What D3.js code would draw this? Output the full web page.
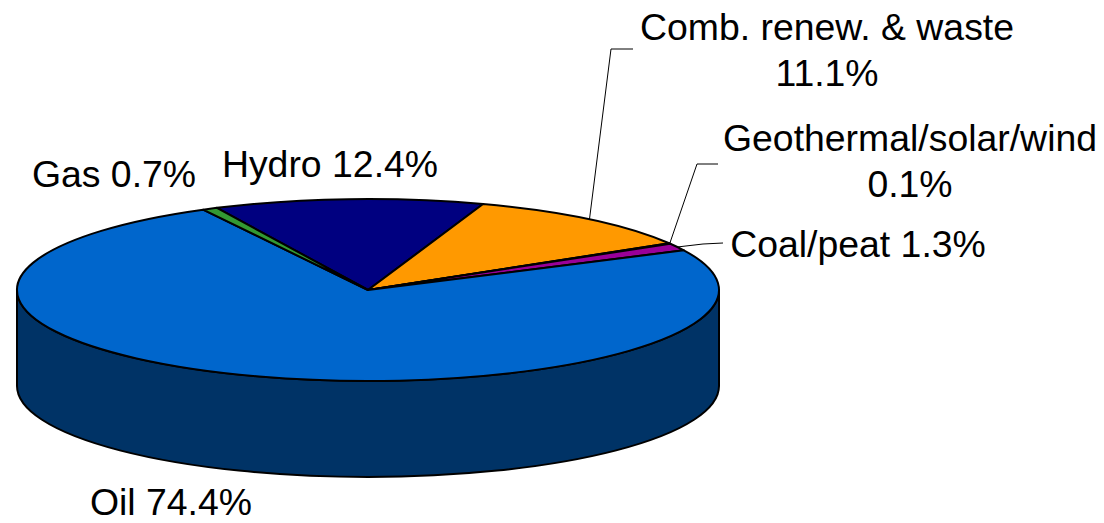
<!DOCTYPE html>
<html>
<head>
<meta charset="utf-8">
<script src="https://cdn.jsdelivr.net/npm/d3@7"></script>
<style>
  html, body { margin: 0; padding: 0; background: #ffffff; }
  svg { display: block; }
  text { font-family: "Liberation Sans", Arial, sans-serif; font-size: 37.4px; fill: #000; }
</style>
</head>
<body>
<svg id="chart" width="1104" height="523"></svg>
<script>
// Energy supply shares, listed clockwise from the top of the pie
const categories = ["Hydro", "Comb. renew. & waste", "Geothermal/solar/wind", "Coal/peat", "Oil", "Gas"];
const shares     = [12.4, 11.1, 0.1, 1.3, 74.4, 0.7];
const topColors  = ["#000080", "#FF9900", "#FF99CC", "#990099", "#0066CC", "#339933"];
const sideColors = ["#000040", "#7F4C00", "#7F4C66", "#4C004C", "#003366", "#194C19"];
const labelLines = [
  ["Hydro 12.4%"],
  ["Comb. renew. & waste", "11.1%"],
  ["Geothermal/solar/wind", "0.1%"],
  ["Coal/peat 1.3%"],
  ["Oil 74.4%"],
  ["Gas 0.7%"]
];

const svg = d3.select("#chart");

// Ellipse geometry of the tilted pie
const cx = 368, cy = 290, rx = 351, ry = 91, depth = 96;
const deg = Math.PI / 180;

const pie = d3.pie().sort(null).value(d => d)
  .startAngle(-25.5 * deg).endAngle(334.5 * deg);
const arcs = pie(shares);

// point on the top ellipse for a pie angle (0 = 12 o'clock, clockwise)
const pt = (a, dy = 0) => [cx + rx * Math.sin(a), cy - ry * Math.cos(a) + dy];

// outer walls: only the front half (90°..270°) faces the viewer
const sides = svg.append("g");
arcs.forEach((d, i) => {
  const front0 = Math.PI / 2, front1 = 3 * Math.PI / 2;
  // handle wrapped angle ranges by shifting into [0, 2π)
  let a0 = d.startAngle, a1 = d.endAngle;
  if (a0 < 0) { a0 += 2 * Math.PI; a1 += 2 * Math.PI; }
  const s0 = Math.max(a0, front0), s1 = Math.min(a1, front1);
  if (s1 <= s0) return;
  const p0 = pt(s0), p1 = pt(s1), q1 = pt(s1, depth), q0 = pt(s0, depth);
  const path = `M${p0}A${rx},${ry} 0 0 1 ${p1}L${q1}A${rx},${ry} 0 0 0 ${q0}Z`;
  sides.append("path")
    .attr("d", path)
    .attr("fill", sideColors[i])
    .attr("stroke", "#000")
    .attr("stroke-width", 2)
    .attr("stroke-linejoin", "round");
});

// top faces
const tops = svg.append("g");
arcs.forEach((d, i) => {
  const p0 = pt(d.startAngle), p1 = pt(d.endAngle);
  const large = (d.endAngle - d.startAngle) > Math.PI ? 1 : 0;
  const path = `M${cx},${cy}L${p0}A${rx},${ry} 0 ${large} 1 ${p1}Z`;
  tops.append("path")
    .attr("d", path)
    .attr("fill", topColors[i])
    .attr("stroke", "#000")
    .attr("stroke-width", 2)
    .attr("stroke-linejoin", "round");
});

// leader lines for the labels on the right
const leaders = [
  { i: 1, pts: [[633, 49], [611, 49]], slice: 0.5 },
  { i: 2, pts: [[718, 164], [697, 164]], slice: 0.5 },
  { i: 3, pts: [[723, 243], [703, 244]], slice: 0.5 }
];
const line = d3.line();
leaders.forEach(l => {
  const d = arcs[l.i];
  const a = d.startAngle + (d.endAngle - d.startAngle) * l.slice;
  const end = pt(a);
  svg.append("path")
    .attr("d", line([...l.pts, end]))
    .attr("fill", "none")
    .attr("stroke", "#000")
    .attr("stroke-width", 1);
});

// labels: centre x and first baseline for each slice
const labelPos = [
  { x: 330, y: 177 },
  { x: 827, y: 40 },
  { x: 910, y: 151 },
  { x: 858, y: 257 },
  { x: 171, y: 515 },
  { x: 114, y: 187 }
];
const lineH = 46;
labelLines.forEach((ls, i) => {
  const t = svg.append("text")
    .attr("text-anchor", "middle")
    .attr("x", labelPos[i].x)
    .attr("y", labelPos[i].y);
  ls.forEach((s, k) => {
    t.append("tspan").attr("x", labelPos[i].x).attr("y", labelPos[i].y + k * lineH).text(s);
  });
});
</script>
</body>
</html>
